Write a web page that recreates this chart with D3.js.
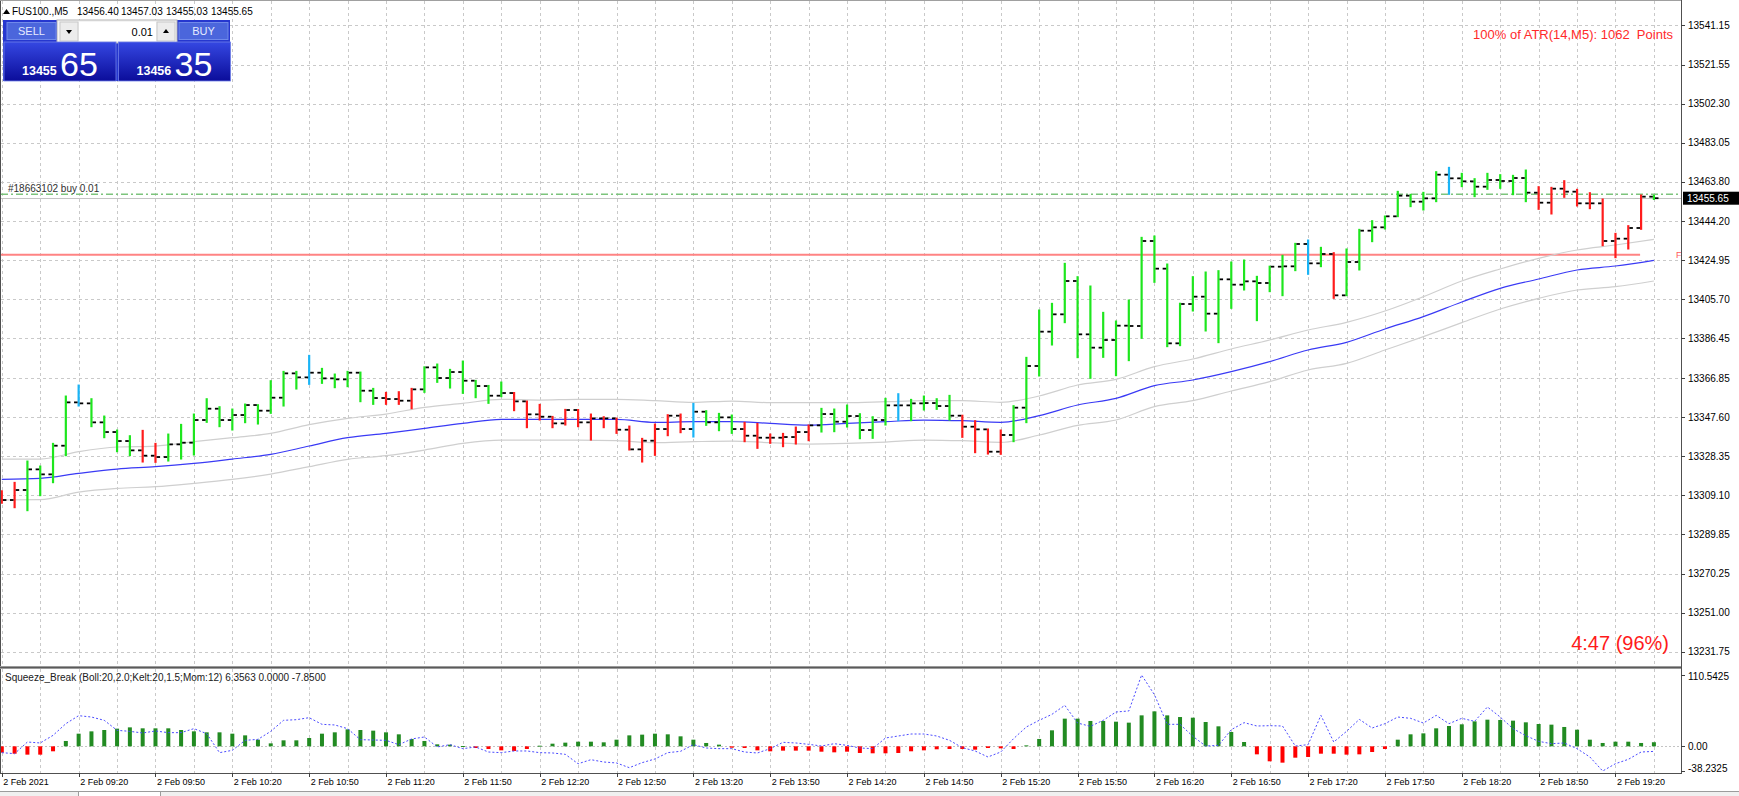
<!DOCTYPE html>
<html>
<head>
<meta charset="utf-8">
<script src="https://cdn.jsdelivr.net/npm/d3@7/dist/d3.min.js"></script>
<style>
html,body{margin:0;padding:0;background:#ffffff;overflow:hidden;}
svg{display:block;font-family:"Liberation Sans",Arial,Helvetica,sans-serif;}
</style>
</head>
<body>
<svg id="chart" width="1739" height="796"></svg>
<script>
// ---------------- DATA ----------------
const symbolTitle = "FUS100.,M5";
const headerOHLC = ["13456.40", "13457.03", "13455.03", "13455.65"];

const priceTicks = [13541.15, 13521.55, 13502.30, 13483.05, 13463.80, 13444.20, 13424.95, 13405.70,
  13386.45, 13366.85, 13347.60, 13328.35, 13309.10, 13289.85, 13270.25, 13251.00, 13231.75];

const timeLabels = ["2 Feb 2021", "2 Feb 09:20", "2 Feb 09:50", "2 Feb 10:20", "2 Feb 10:50", "2 Feb 11:20",
  "2 Feb 11:50", "2 Feb 12:20", "2 Feb 12:50", "2 Feb 13:20", "2 Feb 13:50", "2 Feb 14:20", "2 Feb 14:50",
  "2 Feb 15:20", "2 Feb 15:50", "2 Feb 16:20", "2 Feb 16:50", "2 Feb 17:20", "2 Feb 17:50", "2 Feb 18:20",
  "2 Feb 18:50", "2 Feb 19:20"];
const timeLabelBars = [0, 6, 12, 18, 24, 30, 36, 42, 48, 54, 60, 66, 72, 78, 84, 90, 96, 102, 108, 114, 120, 126];

const open = [
  13310.5, 13306.62, 13311.56, 13321.76, 13319.29, 13333.44, 13354.84, 13354.35, 13344.97, 13340.19,
  13335.75, 13331.14, 13328.51, 13327.85, 13334.10, 13334.93, 13346.12, 13351.71, 13346.12, 13348.59,
  13353.52, 13350.73, 13357.14, 13369.16, 13367.18, 13369.49, 13366.69, 13366.20, 13369.49, 13360.60,
  13356.98, 13356.49, 13355.66, 13361.26, 13372.12, 13366.86, 13369.82, 13365.54, 13362.91, 13358.13,
  13359.45, 13355.33, 13348.92, 13347.76, 13344.47, 13351.06, 13344.97, 13346.94, 13346.94, 13341.34,
  13331.63, 13335.91, 13341.67, 13348.26, 13341.67, 13350.23, 13344.97, 13347.43, 13341.67, 13338.38,
  13337.39, 13337.39, 13337.72, 13340.19, 13343.48, 13349.08, 13345.29, 13348.09, 13341.18, 13346.12,
  13353.36, 13353.36, 13354.35, 13354.51, 13353.03, 13348.26, 13342.83, 13341.51, 13330.48, 13338.73,
  13352.22, 13372.80, 13389.75, 13398.31, 13414.77, 13388.43, 13381.85, 13385.63, 13392.71, 13392.55,
  13434.52, 13420.86, 13383.99, 13403.41, 13407.03, 13398.64, 13415.59, 13412.96, 13414.60, 13413.78,
  13421.84, 13422.01, 13433.04, 13423.49, 13428.10, 13407.69, 13424.15, 13439.62, 13441.27, 13446.70,
  13456.90, 13453.94, 13455.58, 13467.27, 13465.46, 13463.98, 13461.35, 13464.64, 13464.14, 13465.62,
  13458.38, 13453.44, 13460.36, 13458.88, 13453.12, 13453.12, 13434.52, 13435.67, 13440.94, 13456.40];
const high = [
  13311.22, 13315.34, 13325.87, 13323.40, 13334.60, 13357.97, 13363.40, 13356.65, 13348.09, 13341.18,
  13338.38, 13341.02, 13334.60, 13339.20, 13343.98, 13349.08, 13356.65, 13352.70, 13351.55, 13354.02,
  13353.69, 13365.54, 13370.15, 13370.15, 13378.05, 13371.63, 13368.83, 13370.15, 13369.80, 13361.75,
  13359.78, 13360.11, 13361.75, 13372.40, 13373.77, 13371.14, 13375.25, 13365.70, 13363.20, 13364.88,
  13359.70, 13355.50, 13353.85, 13347.90, 13351.38, 13351.30, 13349.08, 13347.76, 13347.10, 13343.15,
  13337.07, 13344.14, 13348.75, 13349.08, 13354.35, 13350.73, 13349.41, 13348.59, 13344.97, 13344.47,
  13339.20, 13339.53, 13342.66, 13343.65, 13351.88, 13351.55, 13353.52, 13349.24, 13347.76, 13356.82,
  13359.12, 13356.32, 13357.97, 13356.65, 13358.30, 13348.50, 13345.79, 13341.70, 13341.19, 13353.21,
  13377.07, 13400.45, 13403.74, 13423.49, 13416.91, 13412.30, 13399.29, 13395.02, 13405.38, 13436.33,
  13436.99, 13423.16, 13403.80, 13416.91, 13419.21, 13419.87, 13424.15, 13425.14, 13417.07, 13422.10,
  13427.44, 13433.36, 13435.01, 13431.39, 13428.76, 13430.57, 13440.28, 13444.56, 13446.86, 13459.04,
  13457.56, 13458.55, 13468.75, 13470.89, 13467.93, 13465.30, 13467.93, 13467.27, 13466.94, 13469.57,
  13461.35, 13461.02, 13464.31, 13460.03, 13458.38, 13455.26, 13438.30, 13442.09, 13457.23, 13457.03];
const low = [
  13304.97, 13302.83, 13301.35, 13308.76, 13315.17, 13328.51, 13353.03, 13342.83, 13337.39, 13330.48,
  13328.51, 13325.38, 13325.21, 13325.87, 13326.86, 13328.84, 13344.97, 13342.83, 13341.18, 13344.80,
  13344.14, 13349.41, 13353.03, 13361.42, 13363.73, 13364.22, 13362.08, 13362.58, 13355.17, 13353.85,
  13353.85, 13353.85, 13351.71, 13359.78, 13364.72, 13361.92, 13359.28, 13357.14, 13354.35, 13357.64,
  13350.73, 13342.33, 13346.12, 13342.33, 13343.65, 13342.83, 13336.24, 13342.33, 13339.53, 13331.30,
  13325.38, 13328.67, 13338.38, 13339.86, 13337.72, 13343.48, 13340.85, 13339.53, 13335.42, 13332.13,
  13334.60, 13332.95, 13334.27, 13335.91, 13340.19, 13340.36, 13342.66, 13336.90, 13337.07, 13343.65,
  13345.79, 13345.79, 13351.06, 13351.38, 13346.12, 13337.56, 13329.99, 13329.33, 13329.18, 13335.43,
  13344.82, 13367.86, 13383.16, 13394.19, 13376.91, 13366.71, 13377.07, 13368.02, 13375.43, 13386.46,
  13414.11, 13382.34, 13382.84, 13399.95, 13390.08, 13384.32, 13401.27, 13410.32, 13395.18, 13409.50,
  13407.52, 13419.87, 13418.06, 13421.84, 13406.21, 13407.52, 13420.20, 13434.19, 13440.44, 13446.53,
  13451.47, 13449.82, 13453.94, 13457.56, 13461.35, 13456.41, 13460.03, 13460.52, 13457.39, 13453.94,
  13450.15, 13447.85, 13456.08, 13451.80, 13450.48, 13432.21, 13426.29, 13430.57, 13440.28, 13455.03];
const close = [
  13306.62, 13311.56, 13321.76, 13319.29, 13333.44, 13354.84, 13354.35, 13344.97, 13340.19, 13335.75,
  13331.14, 13328.51, 13327.85, 13334.10, 13334.93, 13346.12, 13351.71, 13346.12, 13348.59, 13353.52,
  13350.73, 13357.14, 13369.16, 13367.18, 13369.49, 13366.69, 13366.20, 13369.49, 13360.60, 13356.98,
  13356.49, 13355.66, 13361.26, 13372.12, 13366.86, 13369.82, 13365.54, 13362.91, 13358.13, 13359.45,
  13355.33, 13348.92, 13347.76, 13344.47, 13351.06, 13344.97, 13346.94, 13346.94, 13341.34, 13331.63,
  13335.91, 13341.67, 13348.26, 13341.67, 13350.23, 13344.97, 13347.43, 13341.67, 13338.38, 13337.39,
  13337.39, 13337.72, 13340.19, 13343.48, 13349.08, 13345.29, 13348.09, 13341.18, 13346.12, 13353.36,
  13353.36, 13354.35, 13354.51, 13353.03, 13348.26, 13342.83, 13341.51, 13330.48, 13338.73, 13352.22,
  13372.80, 13389.75, 13398.31, 13414.77, 13388.43, 13381.85, 13385.63, 13392.71, 13392.55, 13434.52,
  13420.86, 13383.99, 13403.41, 13407.03, 13398.64, 13415.59, 13412.96, 13414.60, 13413.78, 13421.84,
  13422.01, 13433.04, 13423.49, 13428.10, 13407.69, 13424.15, 13439.62, 13441.27, 13446.70, 13456.90,
  13453.94, 13455.58, 13467.27, 13465.46, 13463.98, 13461.35, 13464.64, 13464.14, 13465.62, 13458.38,
  13453.44, 13460.36, 13458.88, 13453.12, 13453.12, 13434.52, 13435.67, 13440.94, 13456.41, 13455.65];
// bar trend colour: g = up (lime), r = down (red), b = signal (sky blue)
const barTrend = ("rrggggbggg" + "grrggggggg" + "ggggbggggg" + "rrrggggggg" + "rrrrrrrrrr" +
  "rrrrbgggrr" + "rrrrgggggg" + "bggggrrrrg" + "gggggggggg" + "gggggggggg" +
  "ggbgrggggg" + "gggbgggggg" + "rrrrrrrrrg").split("");

// moving average + envelope, read every 3rd bar
const maBars = [0, 3, 6, 9, 12, 15, 18, 21, 24, 27, 30, 33, 36, 39, 42, 45, 48, 51, 54, 57, 60, 63,
  66, 69, 72, 75, 78, 81, 84, 87, 90, 93, 96, 99, 102, 105, 108, 111, 114, 117, 120, 123, 126, 129];
const maMid = [13316.82, 13317.31, 13319.78, 13321.92, 13323.07, 13324.72, 13326.86, 13329.16, 13333.28,
  13337.39, 13339.53, 13342.00, 13344.47, 13346.45, 13346.45, 13346.45, 13346.45, 13344.97, 13345.29,
  13345.29, 13344.47, 13343.65, 13344.47, 13345.29, 13346.12, 13345.79, 13344.98, 13348.27, 13353.54,
  13356.83, 13363.08, 13365.88, 13370.00, 13374.94, 13380.70, 13384.48, 13391.07, 13397.15, 13404.40,
  13411.15, 13415.75, 13420.20, 13422.17, 13424.97];
const maUpper = [13326.86, 13326.86, 13330.48, 13332.79, 13333.28, 13335.42, 13337.39, 13339.53, 13343.81,
  13346.94, 13349.08, 13352.37, 13354.35, 13356.32, 13355.99, 13356.32, 13356.32, 13355.66, 13354.84,
  13355.50, 13354.68, 13354.68, 13354.68, 13355.17, 13355.66, 13355.66, 13354.86, 13357.98, 13363.41,
  13366.21, 13372.47, 13376.25, 13381.19, 13385.63, 13390.57, 13394.36, 13399.95, 13407.03, 13414.77,
  13420.69, 13425.96, 13430.07, 13432.54, 13435.34];
const maLower = [13306.62, 13306.78, 13310.56, 13312.38, 13313.20, 13314.85, 13316.82, 13319.45, 13323.07,
  13326.70, 13328.51, 13331.30, 13334.60, 13336.24, 13336.24, 13336.24, 13335.91, 13334.93, 13335.42,
  13335.75, 13334.93, 13334.27, 13334.60, 13335.25, 13336.24, 13335.91, 13335.10, 13338.73, 13343.50,
  13346.13, 13352.72, 13355.68, 13360.45, 13365.06, 13370.82, 13374.11, 13380.70, 13387.28, 13394.19,
  13400.94, 13406.21, 13410.32, 13411.97, 13414.77];

// Squeeze_Break indicator
const squeezeHist = [
  -9.8, -11.4, -12.9, -12.9, -7.7, 8.3, 19.6, 23.2, 25.3, 27.4,
  29.4, 27.9, 27.9, 27.9, 25.3, 23.2, 21.7, 21.7, 19.6, 17.0,
  10.3, 4.6, 9.3, 9.3, 12.9, 19.6, 21.7, 26.3, 25.3, 24.3,
  21.7, 18.6, 11.4, 8.3, 3.1, 2.6, 0.5, -2.6, -4.1, -6.2,
  -7.2, -4.1, 1.0, 4.1, 5.7, 7.2, 7.2, 6.2, 10.3, 17.0,
  18.1, 19.6, 18.6, 15.5, 10.3, 5.2, 2.6, -2.1, -2.6, -6.2,
  -7.7, -6.7, -6.7, -6.7, -8.3, -9.3, -8.3, -10.3, -10.8, -10.8,
  -10.3, -7.7, -6.2, -4.6, -4.1, -4.1, -5.2, -2.6, -3.1, -4.1,
  1.5, 11.4, 24.8, 42.9, 42.9, 39.3, 39.3, 38.2, 36.7, 48.0,
  54.2, 48.0, 45.4, 44.4, 37.7, 31.0, 22.2, 6.7, -12.4, -23.2,
  -25.3, -17.6, -16.5, -11.4, -11.4, -12.9, -12.4, -8.8, -4.1, 10.3,
  18.6, 20.1, 27.9, 31.5, 34.1, 38.7, 41.3, 40.8, 39.8, 37.2,
  34.6, 33.6, 30.0, 25.8, 10.3, 5.2, 7.2, 7.2, 5.2, 6.3563];
const squeezeMom = [
  -9.8, -11.4, 6.7, 5.2, 17.0, 35.1, 47.5, 45.4, 40.3, 24.8,
  23.2, 20.7, 23.8, 21.2, 21.2, 27.4, 19.6, -9.8, -6.2, 9.3,
  10.8, 23.2, 40.3, 41.3, 44.4, 34.1, 33.1, 27.4, 10.3, 9.8,
  9.3, 2.6, 11.4, 14.5, -1.0, 2.6, -3.6, -1.0, -8.8, -9.8,
  -7.2, -7.2, -9.8, -10.3, -12.4, -27.0, -20.7, -24.3, -25.8, -33.1,
  -25.3, -19.6, -9.8, -7.7, 2.6, -2.6, -3.6, -3.6, -8.8, -10.3,
  -3.6, 6.2, 5.2, 3.1, 0.5, 4.1, 1.5, -2.6, -3.6, 12.9,
  16.0, 19.1, 19.1, 16.0, 9.3, -2.1, -7.2, -16.5, -8.8, 11.9,
  30.0, 40.3, 49.6, 63.5, 36.1, 31.0, 40.3, 53.2, 54.8, 110.5425,
  80.0, 34.1, 34.1, 15.5, 0.5, 1.5, 25.8, 36.7, 31.5, 32.0,
  31.5, 0.5, 2.6, 48.0, 6.7, 23.2, 41.8, 28.4, 35.1, 45.4,
  43.4, 36.1, 48.0, 35.1, 43.4, 38.7, 61.0, 45.4, 27.4, 16.5,
  7.7, 4.1, 5.2, -3.6, -16.5, -38.2325, -26.9, -20.2, -8.8, -7.85];
const indTicks = [110.5425, 0, -38.2325];
const indTickLabels = ["110.5425", "0.00", "-38.2325"];

const bidPrice = 13455.65;
const orderPrice = 13457.6;
const stopPrice = 13427.75;
const stopLineEndBar = 128;
const orderLabel = "#18663102 buy 0.01";
const atrText = "100% of ATR(14,M5): 1062  Points";
const timerText = "4:47 (96%)";
const indicatorTitle = "Squeeze_Break (Boll:20,2.0;Kelt:20,1.5;Mom:12) 6.3563 0.0000 -7.8500";
const sellQuote = ["13455", "65"];
const buyQuote = ["13456", "35"];
const lotSize = "0.01";

// ---------------- LAYOUT ----------------
const W = 1739, H = 796;
const L = 1, R = 1681, PT = 1, PB = 666, IT = 669, IB = 773;
const barColors = { g: "#1ee61e", r: "#ff1c1c", b: "#1ab4f6" };

const svg = d3.select("#chart");
const defs = svg.append("defs");
defs.append("clipPath").attr("id", "clipP").append("rect")
  .attr("x", L).attr("y", PT).attr("width", R - L).attr("height", PB - PT);
defs.append("clipPath").attr("id", "clipI").append("rect")
  .attr("x", L).attr("y", IT).attr("width", R - L).attr("height", IB - IT);
const qg = defs.append("linearGradient").attr("id", "quoteGrad")
  .attr("x1", 0).attr("y1", 0).attr("x2", 0).attr("y2", 1);
qg.append("stop").attr("offset", "0%").attr("stop-color", "#3547e2");
qg.append("stop").attr("offset", "100%").attr("stop-color", "#0b0d9a");

const x = d3.scaleLinear().domain([0, 129]).range([1.8, 1653.9]);
const y = d3.scaleLinear().domain([13231.75, 13541.15]).range([651.65, 25.05]);
const yi = d3.scaleLinear().domain([-38.2325, 110.5425]).range([771, 675]);
const gridBars = d3.range(0, open.length, 3);

svg.append("rect").attr("width", W).attr("height", H).attr("fill", "#ffffff");

// grid
const grid = svg.append("g").attr("stroke", "#c9c9c9").attr("stroke-width", 1)
  .attr("stroke-dasharray", "3,3").attr("shape-rendering", "crispEdges");
grid.selectAll("line.gh").data(priceTicks).join("line").attr("class", "gh")
  .attr("x1", L).attr("x2", R)
  .attr("y1", d => Math.round(y(d)) + 0.5).attr("y2", d => Math.round(y(d)) + 0.5);
grid.selectAll("line.gv").data(gridBars).join("line").attr("class", "gv")
  .attr("x1", d => Math.round(x(d)) + 0.5).attr("x2", d => Math.round(x(d)) + 0.5)
  .attr("y1", PT).attr("y2", PB);
grid.selectAll("line.gvi").data(gridBars).join("line").attr("class", "gvi")
  .attr("x1", d => Math.round(x(d)) + 0.5).attr("x2", d => Math.round(x(d)) + 0.5)
  .attr("y1", IT).attr("y2", IB);

// ---------------- PRICE PANEL ----------------
const pp = svg.append("g").attr("clip-path", "url(#clipP)");

// stop line (red)
pp.append("line").attr("x1", L).attr("x2", x(stopLineEndBar) - 1)
  .attr("y1", y(stopPrice)).attr("y2", y(stopPrice))
  .attr("stroke", "#ff8383").attr("stroke-width", 2);
// bid line
pp.append("line").attr("x1", L).attr("x2", R)
  .attr("y1", Math.round(y(bidPrice)) + 0.5).attr("y2", Math.round(y(bidPrice)) + 0.5)
  .attr("stroke", "#c4c4c4").attr("stroke-width", 1);
// order line (green dash-dot)
pp.append("line").attr("x1", L).attr("x2", R)
  .attr("y1", y(orderPrice)).attr("y2", y(orderPrice))
  .attr("stroke", "#7cc47c").attr("stroke-width", 1.6).attr("stroke-dasharray", "7,3,2,3");
pp.append("text").attr("x", 8).attr("y", y(orderPrice) - 2)
  .attr("font-size", 10).attr("fill", "#303030").text(orderLabel);

// moving averages
const maLine = d3.line().x((d, k) => x(maBars[k])).y(d => y(d)).curve(d3.curveMonotoneX);
pp.append("path").attr("d", maLine(maUpper)).attr("fill", "none").attr("stroke", "#cfcfcf").attr("stroke-width", 1.2);
pp.append("path").attr("d", maLine(maLower)).attr("fill", "none").attr("stroke", "#cfcfcf").attr("stroke-width", 1.2);
pp.append("path").attr("d", maLine(maMid)).attr("fill", "none").attr("stroke", "#3a3af5").attr("stroke-width", 1.2);

// OHLC bars
const bars = open.map((o, i) => ({ i, o, h: high[i], l: low[i], c: close[i], t: barTrend[i] }));
const bg = pp.append("g");
bg.selectAll("line.hl").data(bars).join("line").attr("class", "hl")
  .attr("x1", d => x(d.i)).attr("x2", d => x(d.i))
  .attr("y1", d => y(d.h) - 0.5).attr("y2", d => y(d.l) + 0.5)
  .attr("stroke", d => barColors[d.t]).attr("stroke-width", 2.2);
bg.selectAll("line.op").data(bars).join("line").attr("class", "op")
  .attr("x1", d => x(d.i) - 4.6).attr("x2", d => x(d.i) - 1.1)
  .attr("y1", d => y(d.o)).attr("y2", d => y(d.o))
  .attr("stroke", "#000").attr("stroke-width", 1.8);
bg.selectAll("line.cl").data(bars).join("line").attr("class", "cl")
  .attr("x1", d => x(d.i) + 1.1).attr("x2", d => x(d.i) + 4.6)
  .attr("y1", d => y(d.c)).attr("y2", d => y(d.c))
  .attr("stroke", "#000").attr("stroke-width", 1.8);

// texts in price panel
svg.append("text").attr("x", R - 8).attr("y", 38.5).attr("text-anchor", "end")
  .attr("font-size", 13).attr("fill", "#ff2a2a").style("white-space", "pre").text(atrText);
svg.append("text").attr("x", R - 12).attr("y", 650).attr("text-anchor", "end")
  .attr("font-size", 20).attr("fill", "#ff1a1a").text(timerText);
// small red marker of stop object at axis
svg.append("text").attr("x", R - 5).attr("y", y(stopPrice) + 3.5)
  .attr("font-size", 9).attr("fill", "#ff5a5a").text("F");

// ---------------- INDICATOR PANEL ----------------
const ip = svg.append("g").attr("clip-path", "url(#clipI)");
ip.append("line").attr("x1", L).attr("x2", R)
  .attr("y1", Math.round(yi(0)) + 0.5).attr("y2", Math.round(yi(0)) + 0.5)
  .attr("stroke", "#c4c4c4").attr("stroke-dasharray", "2,2").attr("shape-rendering", "crispEdges");
ip.selectAll("rect.hist").data(squeezeHist).join("rect").attr("class", "hist")
  .attr("x", (d, i) => x(i) - 2).attr("width", 4)
  .attr("y", d => Math.min(yi(0), yi(d)))
  .attr("height", d => Math.max(1, Math.abs(yi(d) - yi(0))))
  .attr("fill", d => d >= 0 ? "#228b22" : "#ff0000");
const momLine = d3.line().x((d, i) => x(i)).y(d => yi(d));
ip.append("path").attr("d", momLine(squeezeMom)).attr("fill", "none")
  .attr("stroke", "#4a4aff").attr("stroke-width", 1).attr("stroke-dasharray", "2,2");
svg.append("text").attr("x", 5).attr("y", 680.5).attr("font-size", 10).attr("fill", "#202020")
  .text(indicatorTitle);

// ---------------- FRAMES ----------------
const fr = svg.append("g").attr("shape-rendering", "crispEdges");
fr.append("line").attr("x1", 0.5).attr("x2", 0.5).attr("y1", 0).attr("y2", IB).attr("stroke", "#505050");
fr.append("line").attr("x1", 0).attr("x2", R).attr("y1", 0.5).attr("y2", 0.5).attr("stroke", "#a0a0a0");
fr.append("rect").attr("x", 0).attr("y", PB).attr("width", R).attr("height", 3).attr("fill", "#9a9a9a");
fr.append("line").attr("x1", 0).attr("x2", R).attr("y1", PB + 1.5).attr("y2", PB + 1.5).attr("stroke", "#5a5a5a");
fr.append("line").attr("x1", 0).attr("x2", R).attr("y1", IB + 0.5).attr("y2", IB + 0.5).attr("stroke", "#505050");
fr.append("line").attr("x1", R + 0.5).attr("x2", R + 0.5).attr("y1", 0).attr("y2", IB + 1).attr("stroke", "#505050");
// bottom tab strip
fr.append("rect").attr("x", 0).attr("y", 791).attr("width", W).attr("height", 5).attr("fill", "#f0f0f0");
fr.append("line").attr("x1", 0).attr("x2", W).attr("y1", 791.5).attr("y2", 791.5).attr("stroke", "#9c9c9c");
fr.append("rect").attr("x", 78.5).attr("y", 791.5).attr("width", 82).attr("height", 6)
  .attr("fill", "#ffffff").attr("stroke", "#9c9c9c");

// ---------------- AXES ----------------
function styleAxis(g, size) {
  g.select(".domain").remove();
  g.selectAll(".tick line").attr("stroke", "#404040").attr("shape-rendering", "crispEdges");
  g.selectAll(".tick text").attr("fill", "#000").attr("font-size", size)
    .attr("font-family", "Liberation Sans, Arial, sans-serif");
}
const pAxis = svg.append("g").attr("transform", `translate(${R},0)`)
  .call(d3.axisRight(y).tickValues(priceTicks).tickFormat(d3.format(".2f")).tickSize(4).tickSizeOuter(0));
styleAxis(pAxis, 10);

const iAxis = svg.append("g").attr("transform", `translate(${R},0)`)
  .call(d3.axisRight(yi).tickValues(indTicks).tickFormat((d, k) => indTickLabels[k]).tickSize(4).tickSizeOuter(0));
styleAxis(iAxis, 10);
iAxis.selectAll(".tick").filter((d, k) => k === 0).select("text").attr("dy", "0.45em");
iAxis.selectAll(".tick").filter((d, k) => k === 2).select("text").attr("dy", "0.0em");

const tAxis = svg.append("g").attr("transform", `translate(0,${IB})`)
  .call(d3.axisBottom(x).tickValues(timeLabelBars).tickFormat((d, k) => timeLabels[k]).tickSize(4).tickSizeOuter(0));
styleAxis(tAxis, 9);
tAxis.selectAll(".tick text").attr("text-anchor", "start").attr("x", 1).attr("y", 6);

// current bid label box
svg.append("rect").attr("x", R + 2).attr("y", y(bidPrice) - 6.5).attr("width", W - R - 2).attr("height", 13)
  .attr("fill", "#000");
svg.append("text").attr("x", R + 6).attr("y", y(bidPrice) + 3.6).attr("font-size", 10)
  .attr("fill", "#fff").text(d3.format(".2f")(bidPrice));

// ---------------- HEADER ----------------
svg.append("path").attr("d", "M3,14 L6.5,9 L10,14 Z").attr("fill", "#000");
svg.append("text").attr("x", 12).attr("y", 15).attr("font-size", 10).attr("fill", "#000").text(symbolTitle);
const hx = [77, 121, 166, 211];
headerOHLC.forEach((v, k) => svg.append("text").attr("x", hx[k]).attr("y", 15)
  .attr("font-size", 10).attr("fill", "#000").text(v));

// one-click trading panel
const tp = svg.append("g");
tp.append("rect").attr("x", 3).attr("y", 20).attr("width", 227).attr("height", 61).attr("fill", "#2637cf");
tp.append("rect").attr("x", 57).attr("y", 20).attr("width", 120).attr("height", 23).attr("fill", "#f4f4f4")
  .attr("stroke", "#b4b4b4");
tp.append("rect").attr("x", 60).attr("y", 22).attr("width", 18).attr("height", 19).attr("fill", "#ececec").attr("stroke", "#c8c8c8");
tp.append("path").attr("d", "M66,30 L72,30 L69,34 Z").attr("fill", "#000");
tp.append("rect").attr("x", 79).attr("y", 22).attr("width", 77).attr("height", 19).attr("fill", "#ffffff");
tp.append("text").attr("x", 153).attr("y", 35.5).attr("text-anchor", "end").attr("font-size", 11).attr("fill", "#000").text(lotSize);
tp.append("rect").attr("x", 157).attr("y", 22).attr("width", 18).attr("height", 19).attr("fill", "#ececec").attr("stroke", "#c8c8c8");
tp.append("path").attr("d", "M163,33 L169,33 L166,29 Z").attr("fill", "#000");
// SELL / BUY buttons
[[7, "SELL"], [179, "BUY"]].forEach(([bx, label]) => {
  tp.append("rect").attr("x", bx).attr("y", 22.5).attr("width", 49).attr("height", 17)
    .attr("fill", "#4b66dc").attr("stroke", "#7089ea");
  tp.append("text").attr("x", bx + 24.5).attr("y", 35).attr("text-anchor", "middle")
    .attr("font-size", 11).attr("fill", "#e6ebff").text(label);
});
// quote boxes
[[4, sellQuote], [118.5, buyQuote]].forEach(([bx, q]) => {
  tp.append("rect").attr("x", bx).attr("y", 42).attr("width", 112).attr("height", 39)
    .attr("fill", "url(#quoteGrad)").attr("stroke", "#6f7fe8").attr("stroke-width", 0.8);
  tp.append("text").attr("x", bx + 18).attr("y", 74.5).attr("font-size", 12.5).attr("font-weight", "bold")
    .attr("fill", "#ffffff").text(q[0]);
  tp.append("text").attr("x", bx + 56).attr("y", 75.5)
    .attr("font-family", "Liberation Sans Narrow, Liberation Sans, Arial, sans-serif")
    .attr("font-size", 34).attr("fill", "#ffffff").text(q[1]);
});
</script>
</body>
</html>
